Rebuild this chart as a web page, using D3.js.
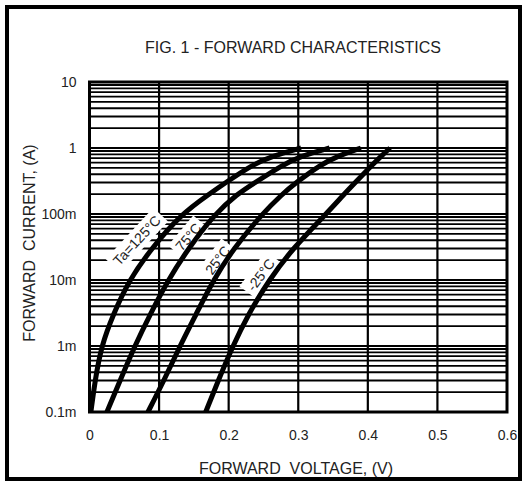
<!DOCTYPE html>
<html><head><meta charset="utf-8">
<script src="https://cdn.jsdelivr.net/npm/d3@7"></script>
<style>body{margin:0;background:#fff}svg{display:block}text{font-family:"Liberation Sans",Arial,sans-serif;fill:#222}</style>
</head><body>
<svg id="chart" width="525" height="483"></svg>
<script>
// ---- data ----
const title = "FIG. 1 - FORWARD CHARACTERISTICS";
const xTitle = "FORWARD  VOLTAGE, (V)";
const yTitle = "FORWARD  CURRENT, (A)";
const xTicks = [0, 0.1, 0.2, 0.3, 0.4, 0.5, 0.6];
const xTickLabels = ["0", "0.1", "0.2", "0.3", "0.4", "0.5", "0.6"];
const yTicks = [10, 1, 0.1, 0.01, 0.001, 0.0001];
const yTickLabels = ["10", "1", "100m", "10m", "1m", "0.1m"];
const seriesNames = ["Ta=125°C", "75°C", "25°C", "-25°C"];
// forward current (A) sample points shared by the curves
const current = [0.0001, 0.0003, 0.001, 0.003, 0.01, 0.03, 0.1, 0.2, 0.3, 0.55, 0.75, 1];
// forward voltage (V) for each temperature at those currents
const v125 = [0.002, 0.008, 0.017, 0.034, 0.057, 0.089, 0.132, 0.172, 0.196, 0.233, 0.262, 0.304];
const v75  = [0.025, 0.044, 0.065, 0.087, 0.113, 0.142, 0.180, 0.212, 0.238, 0.277, 0.303, 0.345];
const v25  = [0.084, 0.107, 0.130, 0.153, 0.178, 0.207, 0.248, 0.277, 0.297, 0.331, 0.356, 0.390];
const vm25 = [0.167, 0.185, 0.206, 0.228, 0.258, 0.292, 0.340, 0.366, 0.382, 0.406, 0.419, 0.432];
const seriesVolts = [v125, v75, v25, vm25];
// label anchor (data space) and angle
const labelV = [0.068, 0.142, 0.184, 0.246];
const labelI = [0.040, 0.045, 0.020, 0.012];
const labelAngle = [-47, -50, -53, -53];

// ---- layout ----
const svg = d3.select("#chart");
const L = 89.5, R = 507, T = 82, B = 412;
const x = d3.scaleLinear().domain([0, 0.6]).range([L, R]);
const y = d3.scaleLog().domain([0.0001, 10]).range([B, T]);

// outer frame
svg.append("rect").attr("x", 7).attr("y", 7).attr("width", 513).attr("height", 472)
  .attr("fill", "none").attr("stroke", "#000").attr("stroke-width", 4);

// title
svg.append("text").attr("x", 293).attr("y", 53).attr("text-anchor", "middle")
  .attr("font-size", 16).text(title);

// horizontal log grid
const minor = [];
for (let e = -4; e <= 0; e++) for (let k = 1; k <= 9; k++) minor.push(k * Math.pow(10, e));
minor.push(10);
const gridG = svg.append("g");
gridG.selectAll("line.h").data(minor).join("line").attr("class", "h")
  .attr("x1", L).attr("x2", R)
  .attr("y1", d => y(d)).attr("y2", d => y(d))
  .attr("stroke", "#000").attr("stroke-width", 1.8);
gridG.selectAll("line.v").data(xTicks.slice(1, -1)).join("line").attr("class", "v")
  .attr("x1", d => x(d)).attr("x2", d => x(d)).attr("y1", T).attr("y2", B)
  .attr("stroke", "#000").attr("stroke-width", 2.2);

// plot frame
svg.append("rect").attr("x", L).attr("y", T).attr("width", R - L).attr("height", B - T)
  .attr("fill", "none").attr("stroke", "#000").attr("stroke-width", 3);

// axes (tick labels only)
const xAxis = d3.axisBottom(x).tickValues(xTicks).tickSize(0).tickPadding(0)
  .tickFormat((d, i) => xTickLabels[i]);
const gx = svg.append("g").attr("transform", `translate(0,${B + 18})`).call(xAxis);
gx.select(".domain").remove();
gx.selectAll("text").attr("font-size", 14).attr("fill", "#222").attr("font-family", "Liberation Sans, Arial, sans-serif");

const yAxis = d3.axisLeft(y).tickValues(yTicks).tickSize(0).tickPadding(0)
  .tickFormat((d, i) => yTickLabels[i]);
const gy = svg.append("g").attr("transform", `translate(${L - 13},0)`).call(yAxis);
gy.select(".domain").remove();
gy.selectAll("text").attr("font-size", 14).attr("fill", "#222").attr("font-family", "Liberation Sans, Arial, sans-serif");

// axis titles
svg.append("text").attr("x", 296).attr("y", 474).attr("text-anchor", "middle")
  .attr("font-size", 16).style("white-space", "pre").text(xTitle);
svg.append("text").attr("transform", "translate(35,243) rotate(-90)").attr("text-anchor", "middle")
  .attr("font-size", 16).style("white-space", "pre").text(yTitle);

// labels with white background
seriesNames.forEach((name, i) => {
  const g = svg.append("g")
    .attr("transform", `translate(${x(labelV[i])},${y(labelI[i])}) rotate(${labelAngle[i]})`);
  const bg = g.append("rect").attr("fill", "#fff");
  const t = g.append("text").attr("text-anchor", "middle").attr("dy", "0.36em")
    .attr("font-size", 14).text(name);
  const w = t.node().getComputedTextLength();
  bg.attr("x", -w / 2 - 4).attr("y", -10).attr("width", w + 8).attr("height", 20);
});

// curves
const line = d3.line().curve(d3.curveBasis)
  .x(d => x(d[0])).y(d => y(d[1]));
seriesVolts.forEach(vs => {
  const pts = vs.map((v, j) => [v, current[j]]);
  svg.append("path").attr("d", line(pts)).attr("fill", "none")
    .attr("stroke", "#000").attr("stroke-width", 5);
});
</script>
</body></html>
